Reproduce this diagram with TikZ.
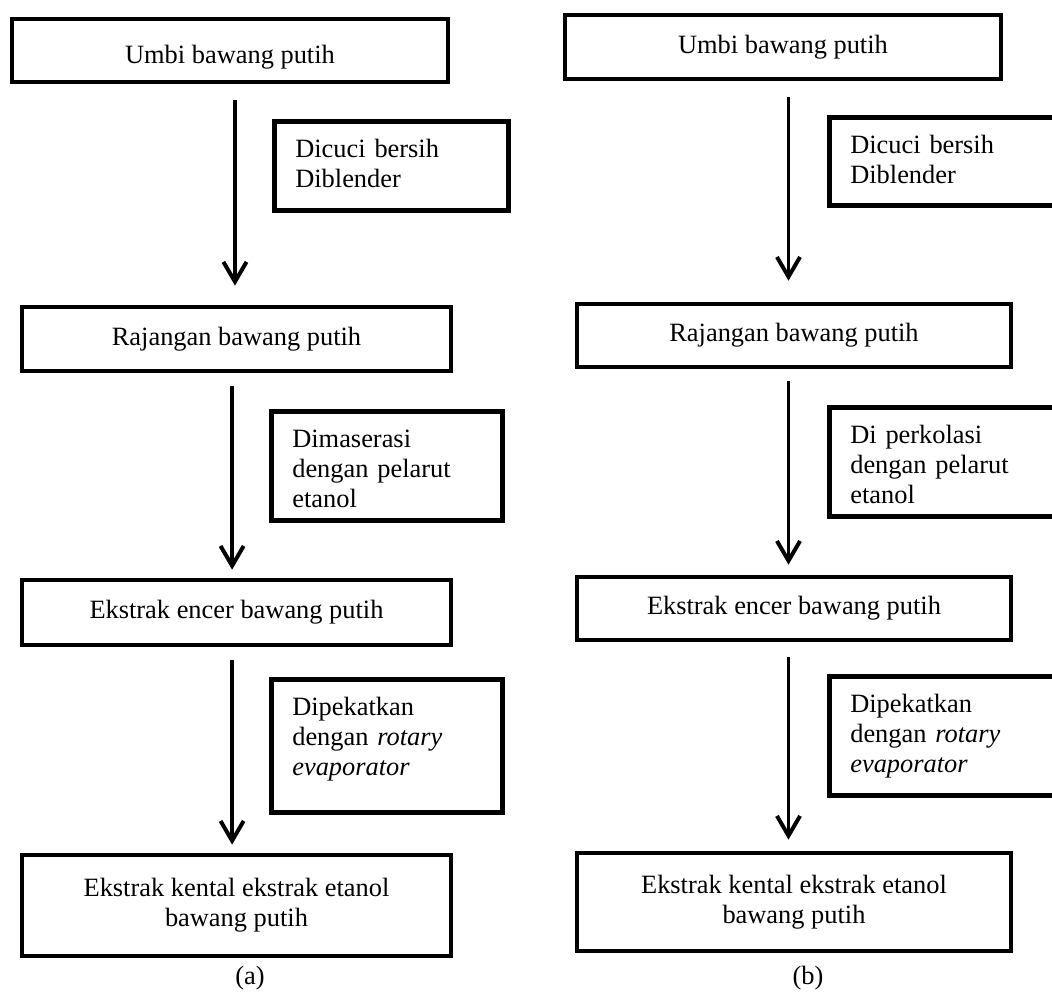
\documentclass[tikz,border=0pt]{standalone}
\usepackage{fontspec}
\setmainfont{Liberation Serif}
\usetikzlibrary{arrows.meta}

\begin{document}
\begin{tikzpicture}[x=0.4545pt,y=-0.4545pt,
  every node/.style={font=\fontsize{12}{13.6}\selectfont},
  box/.style={draw=black,line width=2.2pt,rectangle,minimum width=195pt,inner sep=0pt,align=center},
  side/.style={draw=black,line width=2.2pt,rectangle,anchor=north west,inner xsep=9.5pt,inner ysep=0pt,text width=87.4pt,text height=16.4pt,align=left},
  flow/.style={line width=1.8pt,-{Straight Barb[length=9pt,width=10.5pt]},shorten <=6pt,shorten >=4pt}]
\useasboundingbox (0,0) rectangle (1052,994);

% (a)
\node[box,minimum width=198.2pt,minimum height=28.6pt,text height=14pt] (a1) at (230,50.5) {Umbi bawang putih};
\node[side,text depth=24.1pt] (a2) at (272,119) {Dicuci bersih\\Diblender};
\node[box,minimum height=29.1pt] (a3) at (236.5,339) {Rajangan bawang putih};
\node[side,text width=86pt,text depth=33.1pt] (a4) at (269,409) {Dimaserasi\\dengan pelarut\\etanol};
\node[box,minimum height=29.5pt] (a5) at (236.5,612.5) {Ekstrak encer bawang putih};
\node[side,text width=86pt,text depth=44pt] (a6) at (269,677) {Dipekatkan\\dengan \textit{rotary}\\\textit{evaporator}};
\node[box,minimum height=45.9pt] (a7) at (236.5,905.5) {Ekstrak kental ekstrak etanol\\bawang putih};
\node (capa) at (250,978) {(a)};

\draw[flow,shorten <=7.3pt,shorten >=8.6pt] ([xshift=-0.7pt]a3.north |- a1.south) -- ([xshift=-0.7pt]a3.north);
\draw[flow,shorten <=5.5pt,shorten >=3.6pt] ([xshift=-2pt]a5.north |- a3.south) -- ([xshift=-2pt]a5.north);
\draw[flow,shorten <=5.9pt,shorten >=3.6pt] ([xshift=-2pt]a7.north |- a5.south) -- ([xshift=-2pt]a7.north);

% (b)
\node[box,minimum width=198.2pt,minimum height=29.1pt] (b1) at (783,47) {Umbi bawang putih};
\node[side,text depth=23.6pt] (b2) at (827,115) {Dicuci bersih\\Diblender};
\node[box,minimum width=197.3pt,minimum height=28.6pt] (b3) at (794,335.5) {Rajangan bawang putih};
\node[side,text depth=33.1pt] (b4) at (827,405) {Di perkolasi\\dengan pelarut\\etanol};
\node[box,minimum width=197.3pt,minimum height=28.6pt] (b5) at (794,608.5) {Ekstrak encer bawang putih};
\node[side,text depth=37.6pt] (b6) at (827,674) {Dipekatkan\\dengan \textit{rotary}\\\textit{evaporator}};
\node[box,minimum width=197.3pt,minimum height=44.5pt] (b7) at (794,902) {Ekstrak kental ekstrak etanol\\bawang putih};
\node (capb) at (808,978) {(b)};

\draw[flow,shorten <=7.3pt,shorten >=9.5pt] ([xshift=-2.5pt]b3.north |- b1.south) -- ([xshift=-2.5pt]b3.north);
\draw[flow,shorten <=5.5pt,shorten >=4.5pt] ([xshift=-2.5pt]b5.north |- b3.south) -- ([xshift=-2.5pt]b5.north);
\draw[flow,shorten <=6.8pt,shorten >=5pt] ([xshift=-2.5pt]b7.north |- b5.south) -- ([xshift=-2.5pt]b7.north);
\end{tikzpicture}
\end{document}
